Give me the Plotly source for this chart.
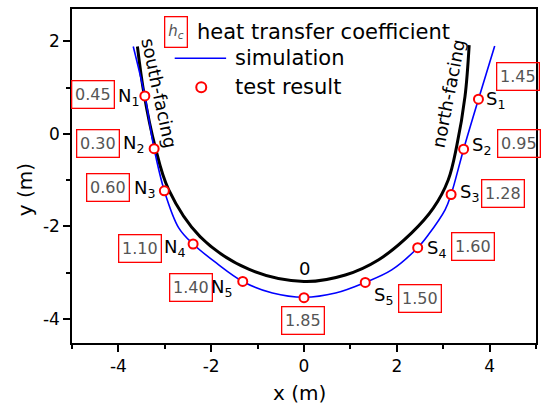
import plotly.graph_objects as go

# ---- data ----
wall_x = [-3.59, -3.45, -3.21, -2.92, -2.24, -1.18, 0.0, 0.89, 1.61, 2.32, 2.79, 3.11, 3.29, 3.47, 3.56]
wall_y = [1.89, 0.88, -0.27, -1.20, -2.22, -2.93, -3.19, -3.05, -2.72, -2.14, -1.60, -0.99, -0.27, 0.81, 1.92]

sim_x = [-3.68, -3.43, -3.23, -3.01, -2.70, -2.39, -1.89, -1.32, -0.68, 0.0, 0.68, 1.32, 1.89, 2.45, 2.68, 3.04, 3.17, 3.44, 3.76, 4.11]
sim_y = [1.89, 0.82, -0.32, -1.23, -2.03, -2.38, -2.79, -3.19, -3.44, -3.53, -3.44, -3.21, -2.94, -2.46, -2.18, -1.64, -1.31, -0.33, 0.75, 1.90]

test_names = ["N<sub>1</sub>", "N<sub>2</sub>", "N<sub>3</sub>", "N<sub>4</sub>", "N<sub>5</sub>", "",
              "S<sub>5</sub>", "S<sub>4</sub>", "S<sub>3</sub>", "S<sub>2</sub>", "S<sub>1</sub>"]
test_x = [-3.43, -3.23, -3.01, -2.39, -1.32, 0.0, 1.32, 2.45, 3.17, 3.44, 3.76]
test_y = [0.82, -0.32, -1.23, -2.38, -3.19, -3.54, -3.21, -2.46, -1.31, -0.33, 0.75]
hc_values = ["0.45", "0.30", "0.60", "1.10", "1.40", "1.85", "1.50", "1.60", "1.28", "0.95", "1.45"]

x_ticks = [-4, -2, 0, 2, 4]
x_tick_text = ["-4", "-2", "0", "2", "4"]
y_ticks = [-4, -2, 0, 2]
y_tick_text = ["-4", "-2", "0", "2"]

FONT = "DejaVu Sans"

# layout geometry (pixels)
L, R, T, B = 72, 5, 9, 63
W, H = 543, 406
X0, XPX = 305.0, 46.65
Y0, YPX = 134.0, 46.3


def dx(px):
    return (px - X0) / XPX


def dy(py):
    return (Y0 - py) / YPX


fig = go.Figure()
fig.add_trace(go.Scatter(x=wall_x, y=wall_y, mode="lines",
                         line=dict(color="black", width=3, shape="spline", smoothing=1),
                         showlegend=False, hoverinfo="skip"))
fig.add_trace(go.Scatter(x=sim_x, y=sim_y, mode="lines",
                         line=dict(color="#0000ff", width=1.6, shape="spline", smoothing=1),
                         showlegend=False))
fig.add_trace(go.Scatter(x=test_x, y=test_y, mode="markers",
                         marker=dict(symbol="circle", size=9, color="white", line=dict(color="#ff0000", width=2)),
                         showlegend=False))

ann = []
# point name labels
name_pos = [
    ("right", 141, 97), ("right", 146, 144), ("right", 157, 189), ("right", 187, 248), ("right", 235, 288),
    None,
    ("left", 373, 296), ("left", 427, 249), ("left", 460, 193), ("left", 472, 146), ("left", 486, 100),
]
for name, pos in zip(test_names, name_pos):
    if pos is None:
        continue
    anc, px, py = pos
    ann.append(dict(x=dx(px), y=dy(py), xref="x", yref="y", text=name, showarrow=False,
                    xanchor=anc, yanchor="middle", font=dict(family=FONT, size=18, color="black")))

# value boxes (centres in px)
box_pos = [(93, 95), (98, 144), (108, 188), (140, 249), (191.5, 288), (303.5, 321),
           (421.7, 298.3), (475, 247), (505, 194), (521.5, 144), (520.5, 76.3)]
for val, (px, py) in zip(hc_values, box_pos):
    ann.append(dict(x=dx(px), y=dy(py), xref="x", yref="y", text=val, showarrow=False,
                    xanchor="center", yanchor="middle", bordercolor="#ff0000", borderwidth=1.3, borderpad=2,
                    width=37, height=22, align="center",
                    font=dict(family=FONT, size=16, color="#555555")))

# bottom "0"
ann.append(dict(x=dx(305), y=dy(269), xref="x", yref="y", text="0", showarrow=False,
                xanchor="center", yanchor="middle", font=dict(family=FONT, size=18, color="black")))

# facing labels
ann.append(dict(x=dx(159), y=dy(93), xref="x", yref="y", text="south-facing", showarrow=False, textangle=78,
                xanchor="center", yanchor="middle", font=dict(family=FONT, size=18, color="black")))
ann.append(dict(x=dx(450), y=dy(93.3), xref="x", yref="y", text="north-facing", showarrow=False, textangle=-79,
                xanchor="center", yanchor="middle", font=dict(family=FONT, size=18, color="black")))

# legend
ann.append(dict(x=dx(176), y=dy(32), xref="x", yref="y", text="<i>h<sub>c</sub></i>", showarrow=False,
                xanchor="center", yanchor="middle", bordercolor="#ff0000", borderwidth=1.3, borderpad=2,
                width=17.5, height=25, align="center",
                font=dict(family=FONT, size=15, color="#555555")))
ann.append(dict(x=dx(195), y=dy(32), xref="x", yref="y", text="heat transfer coefficient", showarrow=False,
                xanchor="left", yanchor="middle", font=dict(family=FONT, size=21, color="black")))
ann.append(dict(x=dx(234), y=dy(58), xref="x", yref="y", text="simulation", showarrow=False,
                xanchor="left", yanchor="middle", font=dict(family=FONT, size=21, color="black")))
ann.append(dict(x=dx(234), y=dy(87.5), xref="x", yref="y", text="test result", showarrow=False,
                xanchor="left", yanchor="middle", font=dict(family=FONT, size=21, color="black")))

# axis titles
ann.append(dict(x=(300.5 - L) / (W - L - R), y=(H - B - 393) / (H - T - B), xref="paper", yref="paper",
                text="x (m)", showarrow=False, xanchor="center", yanchor="middle",
                font=dict(family=FONT, size=20, color="black")))
ann.append(dict(x=(25 - L) / (W - L - R), y=(H - B - 190) / (H - T - B), xref="paper", yref="paper",
                text="y (m)", showarrow=False, xanchor="center", yanchor="middle", textangle=-90,
                font=dict(family=FONT, size=20, color="black")))

shapes = [
    dict(type="line", xref="x", yref="y", x0=dx(175), x1=dx(226.7), y0=dy(58.3), y1=dy(58.3),
         line=dict(color="#0000ff", width=1.6)),
    dict(type="circle", xref="x", yref="y", xsizemode="pixel", ysizemode="pixel",
         xanchor=dx(201.7), yanchor=dy(87.3), x0=-5, x1=5, y0=-5, y1=5,
         line=dict(color="#ff0000", width=2), fillcolor="white"),
]

axis_common = dict(showgrid=False, zeroline=False, showline=True, mirror=True, linecolor="black", linewidth=1.5,
                   ticks="outside", ticklen=7, tickwidth=1.5, tickcolor="black",
                   tickfont=dict(family=FONT, size=17, color="black"),
                   minor=dict(ticks="outside", ticklen=4, tickwidth=1.5, tickcolor="black", dtick=1, tick0=0))

fig.update_layout(
    width=W, height=H,
    margin=dict(l=L, r=R, t=T, b=B),
    paper_bgcolor="white", plot_bgcolor="white",
    showlegend=False,
    xaxis=dict(range=[-5, 5], tickmode="array", tickvals=x_ticks, ticktext=x_tick_text, **axis_common),
    yaxis=dict(range=[-4.52, 2.70], tickmode="array", tickvals=y_ticks, ticktext=y_tick_text, **axis_common),
    annotations=ann,
    shapes=shapes,
    font=dict(family=FONT),
)

fig.write_html("out.html")
